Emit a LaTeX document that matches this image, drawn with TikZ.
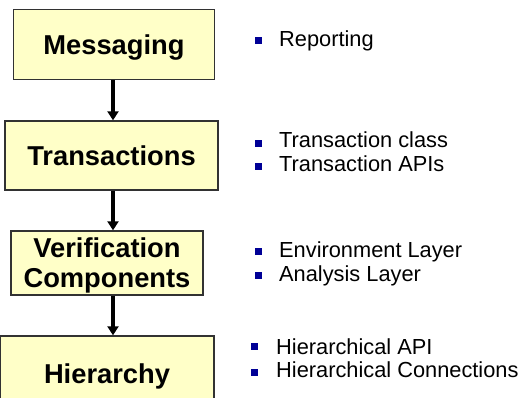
\documentclass[tikz,border=0pt]{standalone}
\usepackage{fontspec}
\setmainfont{Liberation Sans}
\usetikzlibrary{arrows.meta}
\definecolor{boxfill}{RGB}{255,255,200}
\definecolor{boxline}{RGB}{50,50,50}
\definecolor{bulletblue}{RGB}{0,0,150}
\tikzset{
  stage/.style={draw=boxline, line width=1.4pt, fill=boxfill, inner sep=0pt,
    font=\fontsize{27.3}{29}\selectfont\bfseries, text height=19.5pt, text depth=0pt, align=center},
  item/.style={anchor=base west, inner sep=0pt, font=\fontsize{21.8}{24}\selectfont},
  bul/.style={fill=bulletblue, minimum size=7pt, inner sep=0pt, draw=none},
  flow/.style={line width=3.4pt, -{Triangle[width=11pt,length=9pt]}}
}
\begin{document}
\begin{tikzpicture}[x=1pt,y=-1pt]
\useasboundingbox (0,0) rectangle (522,398);
\clip (0,0) rectangle (522,398);
% stage boxes
\node[stage, minimum width=201pt, minimum height=70pt] (msg) at (114,44.5) {Messaging};
\node[stage, minimum width=213pt, minimum height=69pt] (trn) at (111.5,155.5) {Transactions};
\node[stage, minimum width=192pt, minimum height=64pt, text height=48pt] (ver) at (107,263) {Verification\\Components};
\node[stage, minimum width=214pt, minimum height=76pt] (hie) at (107,374) {Hierarchy};
% flow arrows
\coordinate (axis) at (113,0);
\draw[flow] (msg.south -| axis) -- (trn.north -| axis);
\draw[flow] (trn.south -| axis) -- (ver.north -| axis);
\draw[flow] (ver.south -| axis) -- (hie.north -| axis);
% bullet items
\node[bul] (b1) at (258.5,41) {};
\node[item] (t1) at (279,47) {Reporting};
\node[bul] (b2) at (258.5,143.5) {};
\node[item] (t2) at (279,148) {Transaction class};
\node[bul] (b3) at (258.5,166.5) {};
\node[item] (t3) at (279,172) {Transaction APIs};
\node[bul] (b4) at (258,251.5) {};
\node[item] (t4) at (279,257) {Environment Layer};
\node[bul] (b5) at (258,275.5) {};
\node[item] (t5) at (279,281) {Analysis Layer};
\node[bul] (b6) at (254.5,346.5) {};
\node[item] (t6) at (276,354) {Hierarchical API};
\node[bul] (b7) at (254.5,372.5) {};
\node[item] (t7) at (276,377) {Hierarchical Connections};
\end{tikzpicture}
\end{document}
